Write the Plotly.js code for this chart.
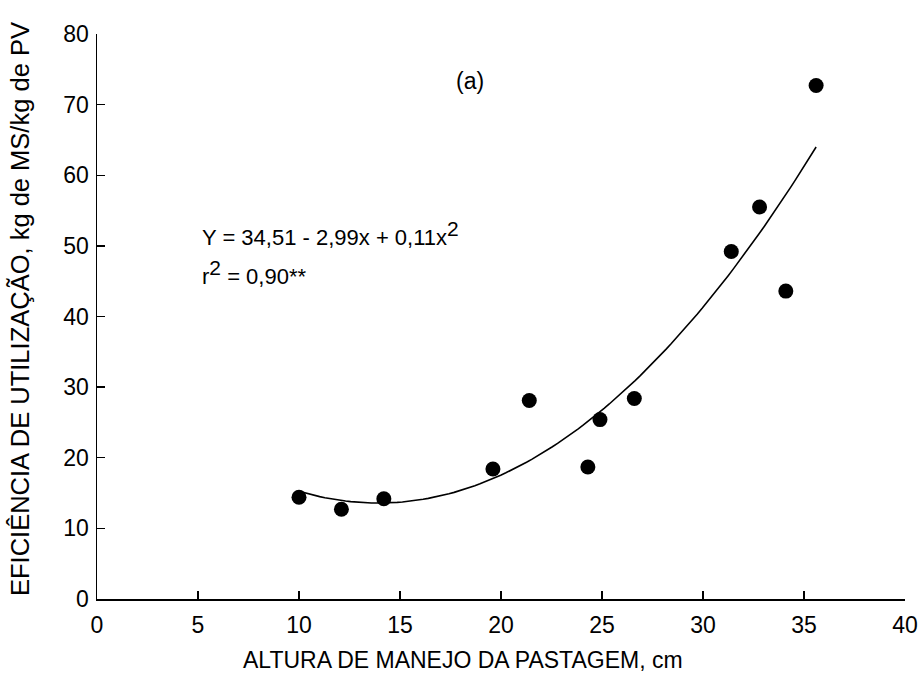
<!DOCTYPE html>
<html>
<head>
<meta charset="utf-8">
<script src="https://cdn.plot.ly/plotly-3.0.1.min.js"></script>
<style>html,body{margin:0;padding:0;background:#fff;}#chart{width:921px;height:700px;}</style>
</head>
<body>
<div id="chart"></div>
<script>
const alturaCm = [10.0, 12.1, 14.2, 19.6, 21.4, 24.3, 24.9, 26.6, 31.4, 32.8, 34.1, 35.6];
const eficiencia = [14.4, 12.7, 14.2, 18.4, 28.1, 18.7, 25.4, 28.4, 49.2, 55.5, 43.6, 72.7];
const xTicks = [0, 5, 10, 15, 20, 25, 30, 35, 40];
const yTicks = [0, 10, 20, 30, 40, 50, 60, 70, 80];
const SUP2 = '<sup><span style="font-size:21px">2</span></sup>';
const eqLine1 = 'Y = 34,51 - 2,99x + 0,11x' + SUP2;
const eqLine2 = 'r' + SUP2 + ' = 0,90**';
const panelLabel = '(a)';
const xTitle = 'ALTURA DE MANEJO DA PASTAGEM, cm';
const yTitle = 'EFICIÊNCIA DE UTILIZAÇÃO, kg de MS/kg de PV';

// Quadratic least-squares fit of the observed data
function quadFit(xs, ys) {
  let S = [0,0,0,0,0], T = [0,0,0];
  for (let i = 0; i < xs.length; i++) {
    let p = 1;
    for (let k = 0; k < 5; k++) { S[k] += p; if (k < 3) T[k] += p * ys[i]; p *= xs[i]; }
  }
  const A = [[S[0],S[1],S[2],T[0]],[S[1],S[2],S[3],T[1]],[S[2],S[3],S[4],T[2]]];
  for (let c = 0; c < 3; c++) {
    for (let r = c + 1; r < 3; r++) {
      const f = A[r][c] / A[c][c];
      for (let k = c; k < 4; k++) A[r][k] -= f * A[c][k];
    }
  }
  const coef = [0,0,0];
  for (let r = 2; r >= 0; r--) {
    let s = A[r][3];
    for (let k = r + 1; k < 3; k++) s -= A[r][k] * coef[k];
    coef[r] = s / A[r][r];
  }
  return coef;
}
const coef = quadFit(alturaCm, eficiencia);
const xMin = Math.min(...alturaCm), xMax = Math.max(...alturaCm);
const fitX = [], fitY = [];
for (let i = 0; i <= 100; i++) {
  const x = xMin + (xMax - xMin) * i / 100;
  fitX.push(x);
  fitY.push(coef[0] + coef[1] * x + coef[2] * x * x);
}

const FONT = 'Liberation Sans, Arial, Helvetica, sans-serif';

const traces = [
  {x: fitX, y: fitY, mode: 'lines', line: {color: '#000', width: 1.6}, hoverinfo: 'skip', showlegend: false},
  {x: alturaCm, y: eficiencia, mode: 'markers', marker: {color: '#000', size: 15}, showlegend: false}
];

const axisCommon = {
  showgrid: false, zeroline: false, showline: true, linecolor: '#000', linewidth: 1.5,
  ticks: 'inside', ticklen: 8, tickwidth: 1.3, tickcolor: '#000',
  tickfont: {family: FONT, size: 23, color: '#000'}, mirror: false, automargin: false
};

const M = {l: 97, r: 16, t: 34, b: 101};
const PW = 921 - M.l - M.r, PH = 700 - M.t - M.b;
const px2paperX = p => (p - M.l) / PW;
const px2paperY = p => (700 - M.b - p) / PH;

const layout = {
  width: 921, height: 700,
  margin: M,
  paper_bgcolor: '#fff', plot_bgcolor: '#fff',
  showlegend: false,
  font: {family: FONT, color: '#000'},
  xaxis: Object.assign({}, axisCommon, {
    range: [0, 40], tickvals: xTicks, ticktext: xTicks.map(String),
    ticklabelstandoff: 5
  }),
  yaxis: Object.assign({}, axisCommon, {
    range: [0, 80], tickvals: yTicks, ticktext: yTicks.map(String),
    ticklabelstandoff: 2
  }),
  annotations: [
    {x: px2paperX(463), y: px2paperY(660), xref: 'paper', yref: 'paper', text: xTitle, showarrow: false,
     font: {family: FONT, size: 23, color: '#000'}, xanchor: 'center', yanchor: 'middle'},
    {x: px2paperX(20), y: px2paperY(309), xref: 'paper', yref: 'paper', text: yTitle, showarrow: false,
     textangle: -90, font: {family: FONT, size: 25.5, color: '#000'}, xanchor: 'center', yanchor: 'middle'},
    {x: 18.45, y: 73.4, xref: 'x', yref: 'y', text: panelLabel, showarrow: false,
     font: {family: FONT, size: 23, color: '#000'}, xanchor: 'center', yanchor: 'middle'},
    {x: 5.1, y: 51.8, xref: 'x', yref: 'y', text: eqLine1, showarrow: false,
     font: {family: FONT, size: 22, color: '#000'}, xanchor: 'left', yanchor: 'middle'},
    {x: 5.1, y: 46.3, xref: 'x', yref: 'y', text: eqLine2, showarrow: false,
     font: {family: FONT, size: 22, color: '#000'}, xanchor: 'left', yanchor: 'middle'}
  ]
};

Plotly.newPlot('chart', traces, layout, {displayModeBar: false, staticPlot: true});
</script>
</body>
</html>
